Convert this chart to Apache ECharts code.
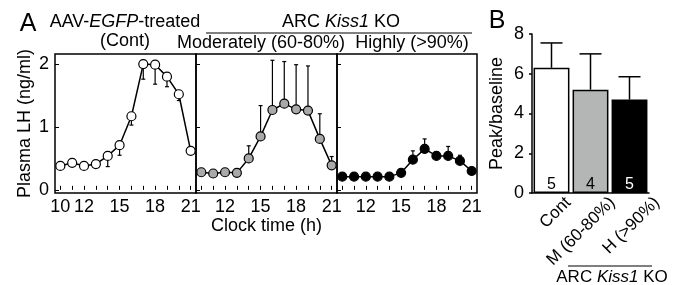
<!DOCTYPE html>
<html>
<head>
<meta charset="utf-8">
<script src="https://cdn.jsdelivr.net/npm/echarts@6/dist/echarts.min.js"></script>
<style>
  html, body {margin: 0; padding: 0; background: #fff;}
  #chart {width: 679px; height: 285px;}
</style>
</head>
<body>
<div id="chart"></div>
<script>
// clock hours sampled in panel A
const hours = [10, 11, 12, 13, 14, 15, 16, 17, 18, 19, 20, 21]
const firstTickLabels = [10, 12, 15, 18, 21]
const otherTickLabels = [12, 15, 18, 21]

// plasma LH (ng/ml), mean and SEM
const contLH = [0.38, 0.43, 0.38, 0.41, 0.54, 0.71, 1.17, 2.0, 1.99, 1.8, 1.52, 0.62]
const contErr = [0.02, 0.05, 0.02, 0.03, 0.17, 0.16, 0.14, 0.24, 0.31, 0.16, 0.1, 0.04]
const modLH = [0.28, 0.26, 0.28, 0.27, 0.5, 0.85, 1.27, 1.37, 1.28, 1.26, 0.81, 0.39]
const modErr = [0.02, 0.02, 0.02, 0.02, 0.2, 0.49, 0.79, 0.67, 0.71, 0.71, 0.4, 0.14]
const highLH = [0.21, 0.21, 0.21, 0.21, 0.21, 0.27, 0.48, 0.65, 0.54, 0.54, 0.46, 0.3]
const highErr = [0.01, 0.01, 0.01, 0.01, 0.01, 0.02, 0.14, 0.16, 0.06, 0.15, 0.09, 0.02]

// panel B
const groups = ['Cont', 'M (60-80%)', 'H (>90%)']
const ratio = [6.3, 5.2, 4.7]
const ratioErr = [1.25, 1.8, 1.15]
const nAnimals = [5, 4, 5]

const FONT = "'Liberation Sans', Arial, sans-serif"
const GRAY_BAR = '#b4b6b6'
const GRAY_DOT = '#a9a9a9'

const chart = echarts.init(document.getElementById('chart'), null, {renderer: 'canvas'})

const panels = [
    {left: 55, values: contLH, errs: contErr, fill: '#fff', dir: -1, labels: firstTickLabels},
    {left: 196, values: modLH, errs: modErr, fill: GRAY_DOT, dir: 1, labels: otherTickLabels},
    {left: 337, values: highLH, errs: highErr, fill: '#000', dir: 1, labels: otherTickLabels},
]

const errorBarItem = (capHalf, lineWidth) => (params, api) => {
    const x = api.value(0)
    const y = api.value(1)
    const e = api.value(2)
    const from = api.coord([x, y])
    const to = api.coord([x, y + e])
    return {
        type: 'group',
        children: [
            {type: 'line', shape: {x1: from[0], y1: from[1], x2: to[0], y2: to[1]},
                style: {stroke: '#000', lineWidth: lineWidth}},
            {type: 'line', shape: {x1: to[0] - capHalf, y1: to[1], x2: to[0] + capHalf, y2: to[1]},
                style: {stroke: '#000', lineWidth: lineWidth}},
        ],
    }
}

const grids = []
const xAxes = []
const yAxes = []
const series = []

panels.forEach((p, i) => {
    grids.push({
        left: p.left, top: 54, width: i === 2 ? 140 : 141, height: 139,
        show: true, borderColor: '#000', borderWidth: 1.5, backgroundColor: 'transparent',
    })
    xAxes.push({
        gridIndex: i, type: 'value', min: 9.55, max: 21.45,
        axisLine: {show: false}, splitLine: {show: false},
        axisTick: {show: true, inside: true, length: 4, customValues: hours, lineStyle: {color: '#000', width: 1}},
        axisLabel: {customValues: p.labels, fontSize: 18, color: '#000', fontFamily: FONT, margin: 5},
        name: i === 1 ? 'Clock time (h)' : '',
        nameLocation: 'middle', nameGap: 24,
        nameTextStyle: {fontSize: 18, color: '#000', fontFamily: FONT},
    })
    yAxes.push({
        gridIndex: i, type: 'value', min: -0.05, max: 2.16,
        axisLine: {show: false}, splitLine: {show: false},
        axisTick: {show: true, inside: true, length: 4, customValues: [0, 1, 2], lineStyle: {color: '#000', width: 1}},
        axisLabel: {show: i === 0, customValues: [0, 1, 2], fontSize: 18, color: '#000', fontFamily: FONT, margin: 6},
        name: i === 0 ? 'Plasma LH (ng/ml)' : '',
        nameLocation: 'middle', nameGap: 21,
        nameTextStyle: {fontSize: 18, color: '#000', fontFamily: FONT},
    })
    series.push({
        type: 'custom', xAxisIndex: i, yAxisIndex: i, z: 1,
        renderItem: errorBarItem(2, 1.2),
        data: hours.map((h, k) => [h, p.values[k], p.dir * p.errs[k]]),
    })
    series.push({
        type: 'line', xAxisIndex: i, yAxisIndex: i, z: 3,
        symbol: 'circle', symbolSize: 9,
        lineStyle: {color: '#000', width: 1.5},
        itemStyle: {color: p.fill, borderColor: '#000', borderWidth: 1.2},
        data: hours.map((h, k) => [h, p.values[k]]),
    })
})

// panel B: bars
grids.push({left: 532, top: 34, width: 117, height: 159})
xAxes.push({
    gridIndex: 3, type: 'category', data: groups,
    axisLine: {lineStyle: {color: '#000', width: 1.5}},
    axisTick: {show: false},
    axisLabel: {show: false},
})
yAxes.push({
    gridIndex: 3, type: 'value', min: 0, max: 8, interval: 2,
    axisLine: {show: true, lineStyle: {color: '#000', width: 1.5}},
    axisTick: {show: true, length: 3, lineStyle: {color: '#000', width: 1.5}},
    splitLine: {show: false},
    axisLabel: {fontSize: 18, color: '#000', fontFamily: FONT, margin: 8},
    name: 'Peak/baseline', nameLocation: 'middle', nameGap: 26,
    nameTextStyle: {fontSize: 18, color: '#000', fontFamily: FONT},
})
// panel B: slanted group labels sit on a slightly wider spacing than the bars
grids.push({left: 546, top: 34, width: 139.5, height: 159})
xAxes.push({
    gridIndex: 4, type: 'category', data: groups,
    axisLine: {show: false}, axisTick: {show: false},
    axisLabel: {interval: 0, rotate: 45, fontSize: 17, color: '#000', fontFamily: FONT, margin: 7},
})
yAxes.push({gridIndex: 4, type: 'value', show: false, min: 0, max: 8})

const barFills = ['#fff', GRAY_BAR, '#000']
series.push({
    type: 'custom', xAxisIndex: 3, yAxisIndex: 3, z: 1,
    renderItem: errorBarItem(11, 1.5),
    data: groups.map((g, k) => [k, ratio[k], ratioErr[k]]),
})
series.push({
    type: 'bar', xAxisIndex: 3, yAxisIndex: 3, z: 3,
    barCategoryGap: '8%',
    data: ratio.map((v, k) => ({
        value: v,
        itemStyle: {color: barFills[k], borderColor: '#000', borderWidth: 1.5},
        label: {
            show: true, position: 'insideBottom', distance: 0,
            formatter: String(nAnimals[k]),
            color: k === 2 ? '#fff' : '#000', fontSize: 16, fontFamily: FONT,
        },
    })),
})

const txt = (x, y, text, size, rich) => ({
    type: 'text', x: x, y: y, silent: true,
    style: {
        text: text, font: size + 'px ' + FONT, fill: '#000',
        textAlign: 'center', textVerticalAlign: 'middle', rich: rich,
    },
})
const italicRich = {
    n: {fontSize: 18, fontFamily: FONT, color: '#000'},
    i: {fontSize: 18, fontFamily: FONT, fontStyle: 'italic', color: '#000'},
}
const rule = (x1, x2, y) => ({
    type: 'line', silent: true,
    shape: {x1: x1, y1: y, x2: x2, y2: y},
    style: {stroke: '#000', lineWidth: 1.2},
})

chart.setOption({
    animation: false,
    backgroundColor: '#fff',
    grid: grids,
    xAxis: xAxes,
    yAxis: yAxes,
    series: series,
    graphic: [
        txt(28, 24, 'A', 25),
        txt(497, 21, 'B', 25),
        txt(125, 22, '{n|AAV-}{i|EGFP}{n|-treated}', 18, italicRich),
        txt(125, 41, '(Cont)', 18),
        txt(341, 22, '{n|ARC }{i|Kiss1}{n| KO}', 18, italicRich),
        rule(206, 472, 33),
        txt(261, 43, 'Moderately (60-80%)', 18),
        txt(412, 43, 'Highly (>90%)', 18),
        rule(568, 652, 266),
        txt(612, 277, '{n|ARC }{i|Kiss1}{n| KO}', 17, {
            n: {fontSize: 17, fontFamily: FONT, color: '#000'},
            i: {fontSize: 17, fontFamily: FONT, fontStyle: 'italic', color: '#000'},
        }),
    ],
})
</script>
</body>
</html>
